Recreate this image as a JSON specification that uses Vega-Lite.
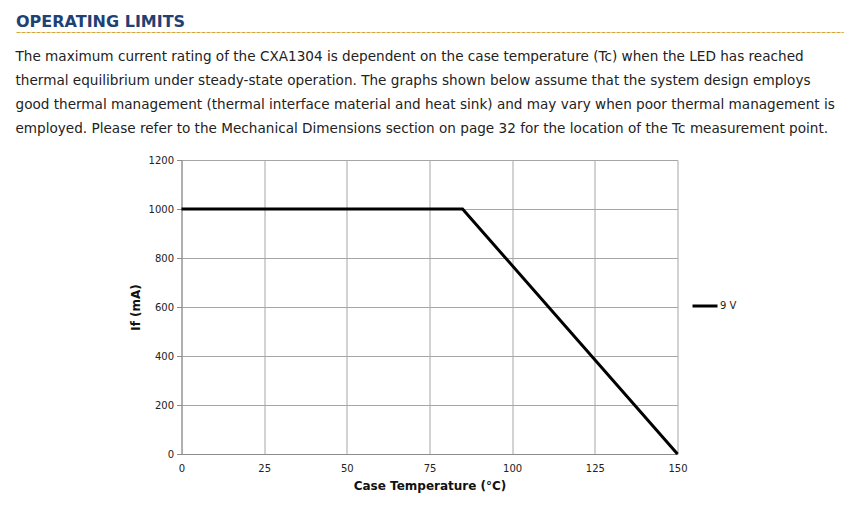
{
  "$schema": "https://vega.github.io/schema/vega-lite/v6.json",
  "background": "white",
  "padding": {"left": 15, "top": 13, "right": 15, "bottom": 10},
  "bounds": "flush",
  "center": true,
  "spacing": 127,
  "config": {
    "axis": {
      "labelFont": "DejaVu Sans",
      "labelFontSize": 10,
      "labelColor": "#222222",
      "titleFont": "DejaVu Sans",
      "titleFontSize": 12,
      "titleFontWeight": "bold",
      "titleColor": "#111111",
      "domainColor": "#8c8c8c",
      "tickColor": "#8c8c8c",
      "gridColor": "#a6a6a6",
      "gridOpacity": 1
    },
    "legend": {
      "labelFont": "DejaVu Sans",
      "labelFontSize": 10,
      "labelColor": "#222222"
    }
  },
  "vconcat": [
    {
      "width": 827,
      "height": 0.01,
      "view": {"stroke": "#d6a43a", "strokeDash": [3, 2], "strokeWidth": 1, "fill": null},
      "title": {
        "text": "OPERATING LIMITS",
        "anchor": "start",
        "frame": "group",
        "font": "DejaVu Sans",
        "fontSize": 16,
        "fontWeight": "bold",
        "color": "#1f4173",
        "offset": -4
      },
      "data": {"values": [{"label": ""}]},
      "mark": {"type": "text"},
      "encoding": {"text": {"field": "label"}}
    },
    {
      "width": 496,
      "height": 294,
      "view": {"stroke": null},
      "title": {
        "text": [
          "The maximum current rating of the CXA1304 is dependent on the case temperature (Tc) when the LED has reached",
          "thermal equilibrium under steady-state operation. The graphs shown below assume that the system design employs",
          "good thermal management (thermal interface material and heat sink) and may vary when poor thermal management is",
          "employed. Please refer to the Mechanical Dimensions section on page 32 for the location of the Tc measurement point."
        ],
        "anchor": "start",
        "frame": "group",
        "dx": -166,
        "font": "DejaVu Sans",
        "fontSize": 13.6,
        "fontWeight": "normal",
        "color": "#222222",
        "lineHeight": 24,
        "offset": 19
      },
      "data": {
        "values": [
          {"Tc": 0, "If": 1000, "series": "9 V"},
          {"Tc": 85, "If": 1000, "series": "9 V"},
          {"Tc": 150, "If": 0, "series": "9 V"}
        ]
      },
      "mark": {"type": "line", "strokeWidth": 3, "strokeCap": "butt", "strokeJoin": "miter"},
      "encoding": {
        "x": {
          "field": "Tc",
          "type": "quantitative",
          "title": "Case Temperature (°C)",
          "scale": {"domain": [0, 150], "nice": false, "zero": true},
          "axis": {"values": [0, 25, 50, 75, 100, 125, 150], "ticks": false, "labelPadding": 9, "titlePadding": 7, "labelFlush": false, "format": "d"}
        },
        "y": {
          "field": "If",
          "type": "quantitative",
          "title": "If (mA)",
          "scale": {"domain": [0, 1200], "nice": false},
          "axis": {"values": [0, 200, 400, 600, 800, 1000, 1200], "tickSize": 5, "labelPadding": 3, "titlePadding": 6, "labelFlush": false, "format": "d"}
        },
        "color": {
          "field": "series",
          "type": "nominal",
          "scale": {"domain": ["9 V"], "range": ["#000000"]},
          "legend": {
            "title": null,
            "orient": "none",
            "legendX": 675,
            "legendY": 260,
            "symbolType": "stroke",
            "symbolSize": 625,
            "symbolStrokeWidth": 3,
            "labelOffset": 1
          }
        }
      }
    }
  ]
}
